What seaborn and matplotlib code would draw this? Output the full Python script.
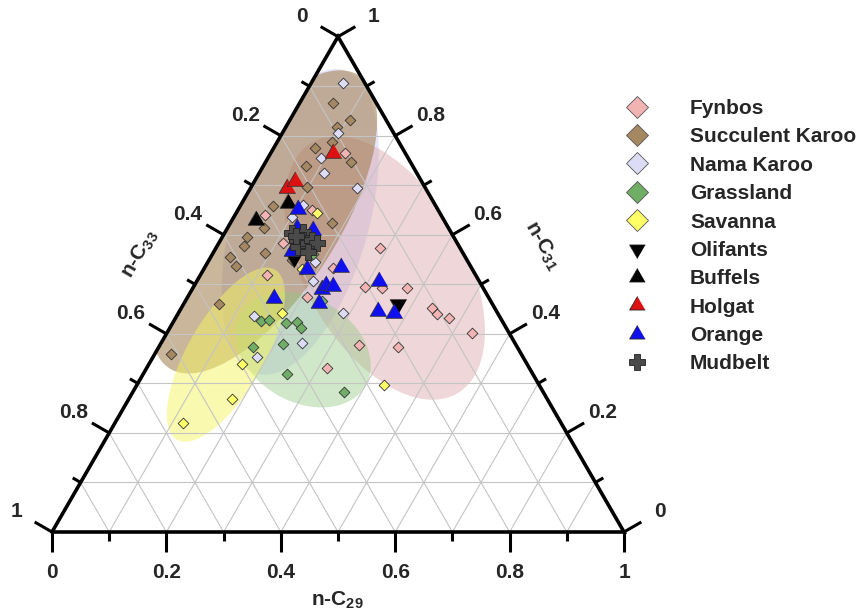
import numpy as np
import pandas as pd
import matplotlib
matplotlib.use("Agg")
import matplotlib.pyplot as plt
import seaborn as sns
from matplotlib.patches import Ellipse, Polygon
from matplotlib.lines import Line2D

# ---------------- data: (n-C29, n-C31, n-C33) fractions ----------------
fynbos = [(0.129, 0.766, 0.105), (0.052, 0.640, 0.308), (0.130, 0.650, 0.220),
          (0.112, 0.584, 0.304), (0.286, 0.574, 0.140), (0.116, 0.519, 0.365),
          (0.224, 0.533, 0.243), (0.299, 0.495, 0.206), (0.330, 0.493, 0.177),
          (0.374, 0.493, 0.133), (0.208, 0.475, 0.317), (0.437, 0.453, 0.110),
          (0.453, 0.440, 0.107), (0.478, 0.432, 0.090), (0.533, 0.402, 0.065),
          (0.348, 0.378, 0.274), (0.418, 0.374, 0.208), (0.315, 0.331, 0.354)]
succulent_karoo = [(0.057, 0.867, 0.076), (0.105, 0.832, 0.063), (0.089, 0.818, 0.093),
                   (0.072, 0.776, 0.152), (0.096, 0.788, 0.116), (0.149, 0.747, 0.104),
                   (0.074, 0.739, 0.187), (0.097, 0.697, 0.206), (0.056, 0.659, 0.285),
                   (0.064, 0.614, 0.322), (0.043, 0.596, 0.361), (0.047, 0.578, 0.375),
                   (0.178, 0.624, 0.198), (0.090, 0.564, 0.346), (0.033, 0.556, 0.411),
                   (0.053, 0.537, 0.410), (0.145, 0.549, 0.306), (0.062, 0.461, 0.477),
                   (0.028, 0.360, 0.612)]
nama_karoo = [(0.055, 0.907, 0.038), (0.097, 0.806, 0.097), (0.092, 0.756, 0.152),
              (0.113, 0.725, 0.162), (0.185, 0.695, 0.120), (0.109, 0.661, 0.230),
              (0.102, 0.636, 0.262), (0.187, 0.545, 0.268), (0.202, 0.507, 0.291),
              (0.288, 0.442, 0.270), (0.135, 0.436, 0.429), (0.246, 0.382, 0.372),
              (0.181, 0.354, 0.465)]
grassland = [(0.152, 0.426, 0.422), (0.165, 0.428, 0.407), (0.198, 0.422, 0.380),
             (0.216, 0.424, 0.360), (0.229, 0.412, 0.359), (0.164, 0.374, 0.462),
             (0.214, 0.380, 0.406), (0.251, 0.319, 0.430), (0.369, 0.283, 0.348),
             (0.175, 0.562, 0.263), (0.239, 0.467, 0.294)]
savanna = [(0.141, 0.644, 0.215), (0.171, 0.531, 0.298), (0.181, 0.442, 0.377),
           (0.162, 0.339, 0.499), (0.181, 0.269, 0.550), (0.119, 0.220, 0.661),
           (0.432, 0.297, 0.271)]
olifants = [(0.375, 0.461, 0.164), (0.146, 0.554, 0.300)]
buffels = [(0.042, 0.630, 0.328), (0.080, 0.665, 0.255)]
holgat = [(0.108, 0.766, 0.126), (0.063, 0.695, 0.242), (0.070, 0.709, 0.221)]
orange = [(0.104, 0.653, 0.243), (0.121, 0.614, 0.265), (0.151, 0.610, 0.239),
          (0.136, 0.568, 0.296), (0.180, 0.531, 0.289), (0.237, 0.535, 0.228),
          (0.226, 0.491, 0.283), (0.229, 0.499, 0.272), (0.242, 0.497, 0.261),
          (0.319, 0.507, 0.174), (0.235, 0.463, 0.302), (0.151, 0.473, 0.376),
          (0.347, 0.446, 0.207), (0.377, 0.442, 0.181)]
mudbelt = [(0.118, 0.604, 0.278), (0.133, 0.590, 0.277), (0.142, 0.576, 0.282),
           (0.136, 0.606, 0.258), (0.144, 0.590, 0.266), (0.156, 0.584, 0.260),
           (0.160, 0.590, 0.250), (0.171, 0.584, 0.245), (0.165, 0.566, 0.269),
           (0.128, 0.598, 0.274)]

group_names = ["Fynbos", "Succulent Karoo", "Nama Karoo", "Grassland", "Savanna",
               "Olifants", "Buffels", "Holgat", "Orange", "Mudbelt"]
group_data = [fynbos, succulent_karoo, nama_karoo, grassland, savanna,
              olifants, buffels, holgat, orange, mudbelt]

# shaded group regions (centre composition, full width/height in side units, angle)
region_names = ["Nama Karoo", "Fynbos", "Succulent Karoo", "Grassland", "Savanna"]
region_center = [(0.121, 0.626, 0.253), (0.315, 0.533, 0.152), (0.058, 0.626, 0.316),
                 (0.255, 0.368, 0.377), (0.125, 0.358, 0.517)]
region_width = [0.552, 0.507, 0.610, 0.252, 0.343]
region_height = [0.238, 0.280, 0.255, 0.182, 0.133]
region_angle = [74, -60, 57, -30, 60]

tick_values = [0.0, 0.1, 0.2, 0.3, 0.4, 0.5, 0.6, 0.7, 0.8, 0.9, 1.0]
tick_labels = ["0", "", "0.2", "", "0.4", "", "0.6", "", "0.8", "", "1"]

# ---------------- styles ----------------
marker_face = {"Fynbos": "#f2b3b3", "Succulent Karoo": "#a58762", "Nama Karoo": "#dcdcf6",
               "Grassland": "#70ae66", "Savanna": "#ffff66", "Olifants": "#000000",
               "Buffels": "#000000", "Holgat": "#dd1111", "Orange": "#1010ee",
               "Mudbelt": "#4a4a4a"}
region_face = {"Fynbos": ("#d99a9e", 0.40), "Succulent Karoo": ("#a07a48", 0.55),
               "Nama Karoo": ("#c8c8f5", 0.45), "Grassland": ("#90c880", 0.42),
               "Savanna": ("#f5f560", 0.50)}
tri_up = [(0, 1), (-0.866, -0.5), (0.866, -0.5)]
tri_dn = [(0, -1), (-0.866, 0.5), (0.866, 0.5)]
marker_shape = {"Fynbos": "D", "Succulent Karoo": "D", "Nama Karoo": "D", "Grassland": "D",
                "Savanna": "D", "Olifants": tri_dn, "Buffels": tri_up, "Holgat": tri_up,
                "Orange": tri_up, "Mudbelt": "P"}
marker_size = {"Fynbos": 30, "Succulent Karoo": 30, "Nama Karoo": 30, "Grassland": 30,
               "Savanna": 30, "Olifants": 190, "Buffels": 190, "Holgat": 190,
               "Orange": 190, "Mudbelt": 120}

sns.set_style("white")
plt.rcParams["font.family"] = ["Liberation Sans", "DejaVu Sans"]
plt.rcParams["font.weight"] = "bold"
plt.rcParams["mathtext.fontset"] = "custom"
plt.rcParams["mathtext.rm"] = "Liberation Sans:bold"
plt.rcParams["mathtext.it"] = "Liberation Sans:bold"
plt.rcParams["mathtext.bf"] = "Liberation Sans:bold"

S3 = np.sqrt(3) / 2


def tern(c29, c31, c33):
    c29, c31, c33 = np.asarray(c29, float), np.asarray(c31, float), np.asarray(c33, float)
    tot = c29 + c31 + c33
    return (c29 + 0.5 * c31) / tot, S3 * c31 / tot


rows = []
for name, pts in zip(group_names, group_data):
    for c29, c31, c33 in pts:
        rows.append({"group": name, "C29": c29, "C31": c31, "C33": c33})
df = pd.DataFrame(rows)
df["x"], df["y"] = tern(df["C29"], df["C31"], df["C33"])

fig = plt.figure(figsize=(8.61, 6.14), dpi=100)
ax = fig.add_axes([0, 0, 1, 1])
ax.set_xlim(-52 / 572, (861 - 52) / 572)
ax.set_ylim(-(614 - 532) / 572, 532 / 572)
ax.axis("off")

triangle = Polygon([(0, 0), (1, 0), (0.5, S3)], closed=True, fill=False,
                   edgecolor="none", transform=ax.transData)
ax.add_patch(triangle)

# regions
for name, cen, w, h, ang in zip(region_names, region_center, region_width,
                                region_height, region_angle):
    cx, cy = tern(*cen)
    fc, al = region_face[name]
    e = Ellipse((float(cx), float(cy)), w, h, angle=ang, facecolor=fc, alpha=al,
                edgecolor="none", zorder=1)
    ax.add_patch(e)
    e.set_clip_path(triangle)

# grid
for v in tick_values[1:-1]:
    segs = [((0, v, 1 - v), (1 - v, v, 0)),      # constant C31
            ((v, 0, 1 - v), (v, 1 - v, 0)),      # constant C29
            ((1 - v, 0, v), (0, 1 - v, v))]      # constant C33
    for p, q in segs:
        x0, y0 = tern(*p)
        x1, y1 = tern(*q)
        ax.plot([x0, x1], [y0, y1], color="#c4c4c4", lw=0.8, zorder=2)

# frame
ax.plot([0, 1, 0.5, 0], [0, 0, S3, 0], color="black", lw=2.6, zorder=4,
        solid_joinstyle="miter")

# ticks and labels
for v, lab in zip(tick_values, tick_labels):
    L = 0.035 if lab else 0.016
    ax.plot([v, v], [0, -L], color="black", lw=2.2, zorder=4, solid_capstyle="butt")
    px, py = tern(0, 1 - v, v)
    nx, ny = -S3, 0.5
    ax.plot([px, px + L * nx], [py, py + L * ny], color="black", lw=2.2, zorder=4,
            solid_capstyle="butt")
    qx, qy = tern(1 - v, v, 0)
    mx, my = S3, 0.5
    ax.plot([qx, qx + L * mx], [qy, qy + L * my], color="black", lw=2.2, zorder=4,
            solid_capstyle="butt")
    if lab:
        ax.text(v, -0.070, lab, ha="center", va="center", fontsize=15, fontweight="bold")
        ax.text(px + 0.072 * nx, py + 0.072 * ny, lab, ha="center", va="center",
                fontsize=15, fontweight="bold")
        ax.text(qx + 0.072 * mx, qy + 0.072 * my, lab, ha="center", va="center",
                fontsize=15, fontweight="bold")

ax.text(0.498, -0.119, r"n-C$_{29}$", ha="center", va="center", fontsize=15,
        fontweight="bold")
ax.text(0.154, 0.486, r"n-C$_{33}$", ha="center", va="center", fontsize=15,
        fontweight="bold", rotation=60, rotation_mode="anchor")
ax.text(0.857, 0.500, r"n-C$_{31}$", ha="center", va="center", fontsize=15,
        fontweight="bold", rotation=-60, rotation_mode="anchor")

# points
for name in group_names:
    sub = df[df["group"] == name]
    sns.scatterplot(data=sub, x="x", y="y", ax=ax, marker=marker_shape[name],
                    s=marker_size[name], color=marker_face[name],
                    edgecolor="#333333" if name != "Mudbelt" else "#222222",
                    linewidth=0.6, zorder=5, legend=False)

# legend
handles = []
for name in group_names:
    mk = marker_shape[name]
    ms = 11.5 if mk == "D" else (12 if mk == "P" else 13)
    handles.append(Line2D([], [], linestyle="none", marker=mk, markersize=ms,
                          markerfacecolor=marker_face[name],
                          markeredgecolor="#555555" if mk == "D" else "#222222",
                          markeredgewidth=0.6))
leg = ax.legend(handles, group_names, loc="upper left",
                bbox_to_anchor=(616 / 861, 1 - 99 / 614), bbox_transform=fig.transFigure,
                frameon=False, borderpad=0, borderaxespad=0, handlelength=2.0,
                handletextpad=1.55, labelspacing=0.45,
                prop={"family": "Liberation Sans", "weight": "bold", "size": 15})

fig.savefig("out.png", dpi=100)
